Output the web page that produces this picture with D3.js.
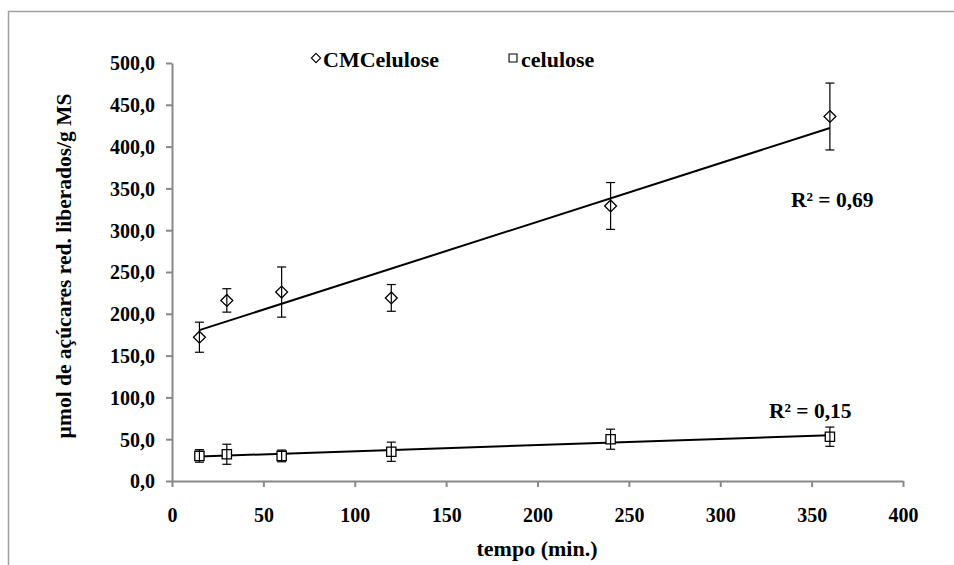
<!DOCTYPE html>
<html><head><meta charset="utf-8">
<script src="https://cdn.jsdelivr.net/npm/d3@7"></script>
<style>body{margin:0;background:#fff;} svg{display:block;}</style>
</head><body>
<svg id="c" width="954" height="565"></svg>
<script>
const times = [15, 30, 60, 120, 240, 360];
const cmcValues = [172, 216, 226, 219, 329, 436];
const cmcErrors = [18, 14, 30, 16, 28, 40];
const celValues = [30, 32, 30, 35, 50, 53];
const celErrors = [7.5, 12, 7, 11.5, 12, 11.5];
const xTicks = [0, 50, 100, 150, 200, 250, 300, 350, 400];
const yTicks = [0, 50, 100, 150, 200, 250, 300, 350, 400, 450, 500];
const seriesNames = ["CMCelulose", "celulose"];
const r2Labels = ["R² = 0,69", "R² = 0,15"];

const FONT = "Liberation Serif";
const svg = d3.select("#c");
function label(sel, size) {
  return sel.attr("font-family", FONT).attr("font-weight", "bold").attr("font-size", size).attr("fill", "#000");
}
svg.append("rect").attr("x", 8.5).attr("y", 11.5).attr("width", 980).attr("height", 600)
  .attr("fill", "none").attr("stroke", "#a0a0a0").attr("stroke-width", 1.5);

const x = d3.scaleLinear().domain([0, 400]).range([172, 903]);
const y = d3.scaleLinear().domain([0, 500]).range([481, 63]);
const axisColor = "#888";

const fmt = d => d3.format(".1f")(d).replace(".", ",");
const gx = svg.append("g").attr("transform", `translate(0,${y(0)})`)
  .call(d3.axisBottom(x).tickValues(xTicks).tickSize(6).tickSizeOuter(0).tickPadding(21));
const gy = svg.append("g").attr("transform", `translate(${x(0)},0)`)
  .call(d3.axisLeft(y).tickValues(yTicks).tickFormat(fmt).tickSize(6).tickSizeOuter(0).tickPadding(11));
[gx, gy].forEach(g => {
  g.attr("font-family", FONT).attr("font-size", 20);
  g.selectAll("path,line").attr("stroke", axisColor).attr("stroke-width", 2);
  label(g.selectAll("text"), 20);
});
gy.selectAll("text").attr("dy", "0.34em");

function fit(xs, ys) {
  const mx = d3.mean(xs), my = d3.mean(ys);
  let sxy = 0, sxx = 0;
  xs.forEach((v, i) => { sxy += (v - mx) * (ys[i] - my); sxx += (v - mx) ** 2; });
  const b = sxy / sxx; return { b, a: my - b * mx };
}

function drawSeries(vals, errs, sym, size) {
  const f = fit(times, vals);
  const x0 = d3.min(times), x1 = d3.max(times);
  svg.append("line").attr("x1", x(x0)).attr("y1", y(f.a + f.b * x0))
    .attr("x2", x(x1)).attr("y2", y(f.a + f.b * x1))
    .attr("stroke", "#000").attr("stroke-width", 2);
  const g = svg.append("g");
  times.forEach((t, i) => {
    g.append("path").attr("d", d3.symbol().type(sym).size(size)())
      .attr("transform", `translate(${x(t)},${y(vals[i])})`)
      .attr("fill", "#fff").attr("stroke", "#000").attr("stroke-width", 1.3);
    const xt = x(t), yt = y(vals[i] + errs[i]), yb = y(vals[i] - errs[i]);
    g.append("line").attr("x1", xt).attr("x2", xt).attr("y1", yt).attr("y2", yb).attr("stroke", "#000").attr("stroke-width", 1.2);
    [yt, yb].forEach(yy => g.append("line").attr("x1", xt - 4.5).attr("x2", xt + 4.5)
      .attr("y1", yy).attr("y2", yy).attr("stroke", "#000").attr("stroke-width", 1.2));
  });
}
drawSeries(cmcValues, cmcErrors, d3.symbolDiamond2, 90);
drawSeries(celValues, celErrors, d3.symbolSquare2, 110);

// legend
const leg = [{ sym: d3.symbolDiamond2, size: 55, x: 316, tx: 323, name: seriesNames[0] },
             { sym: d3.symbolSquare2, size: 80, x: 513, tx: 521, name: seriesNames[1] }];
leg.forEach(l => {
  svg.append("path").attr("d", d3.symbol().type(l.sym).size(l.size)())
    .attr("transform", `translate(${l.x},58)`).attr("fill", "#fff").attr("stroke", "#000").attr("stroke-width", 1.1);
  label(svg.append("text").attr("x", l.tx).attr("y", 67).text(l.name), 22);
});

label(svg.append("text").attr("x", 791).attr("y", 207).text(r2Labels[0]), 21.5);
label(svg.append("text").attr("x", 769).attr("y", 418).text(r2Labels[1]), 21.5);

label(svg.append("text").attr("x", 537).attr("y", 556).attr("text-anchor", "middle").text("tempo (min.)"), 22);
label(svg.append("text").attr("transform", "translate(71,266) rotate(-90)").attr("text-anchor", "middle")
  .text("µmol de açúcares red. liberados/g MS"), 21.5);
</script>
</body></html>
